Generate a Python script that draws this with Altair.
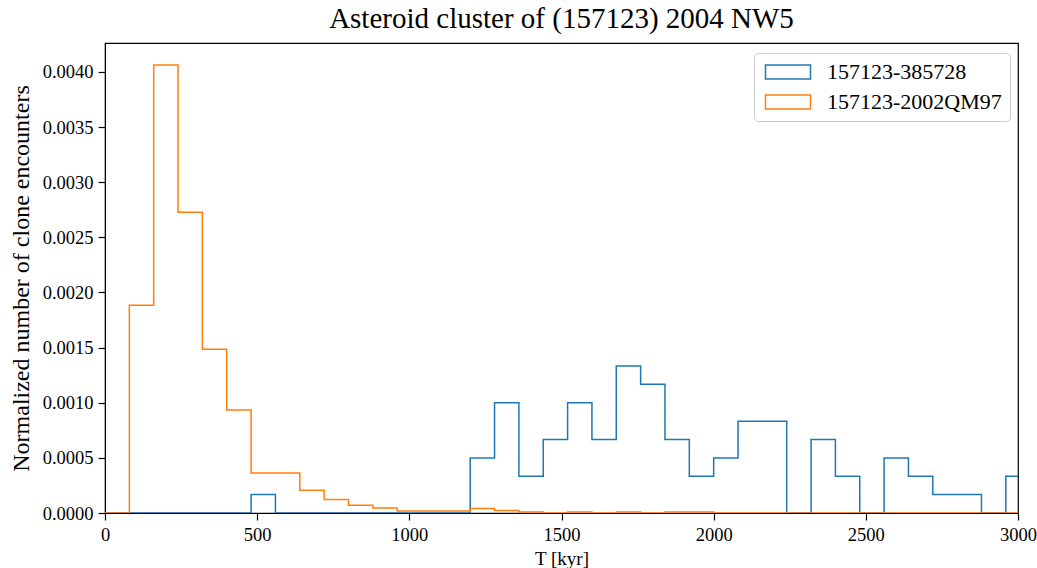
import altair as alt
import pandas as pd

# bin left edges (kyr), bin width 80
bin_width = 80
bin_lefts = list(range(0, 3040, bin_width))

series_names = ["157123-385728", "157123-2002QM97"]
series_colors = ["#1f77b4", "#ff7f0e"]

blue_vals = [0, 0, 0, 0, 0, 0,
             0.000167,
             0, 0, 0, 0, 0, 0, 0, 0,
             0.0005, 0.001, 0.000333, 0.000667, 0.001, 0.000667, 0.001333,
             0.001167, 0.000667, 0.000333, 0.0005, 0.000833, 0.000833, 0,
             0.000667, 0.000333, 0, 0.0005, 0.000333, 0.000167, 0.000167, 0,
             0.000333]

orange_vals = [0, 0.001885, 0.004064, 0.002728, 0.001486, 0.000935,
               0.000363, 0.000363, 0.000206, 0.000122, 0.000070, 0.000045,
               0.000018, 0.000018, 0.000018, 0.000040, 0.000022, 0.000009,
               0, 0.000009, 0, 0.000009, 0, 0.000009, 0.000009,
               0, 0, 0, 0, 0, 0, 0, 0, 0, 0, 0, 0, 0]

def step_frame(name, vals):
    xs = bin_lefts + [bin_lefts[-1] + bin_width]
    ys = list(vals) + [0]
    return pd.DataFrame({"T": xs, "v": ys, "series": name})

df_b = step_frame(series_names[0], blue_vals)
df_o = step_frame(series_names[1], orange_vals)

FONT = "Liberation Serif"

color = alt.Color(
    "series:N",
    scale=alt.Scale(domain=series_names, range=series_colors),
    legend=alt.Legend(
        title=None,
        orient="none",
        legendX=649,
        legendY=10,
        symbolType="M-1,-0.93L5,-0.93L5,0.93L-1,0.93Z",
        symbolSize=225,
        symbolStrokeWidth=1.5,
        symbolFillColor="transparent",
        labelFont=FONT,
        labelFontSize=22,
        labelColor="black",
        labelOffset=43,
        rowPadding=8,
        padding=8,
        fillColor="white",
        strokeColor="#cccccc",
        cornerRadius=4,
        labelLimit=400,
    ),
)

x = alt.X("T:Q", scale=alt.Scale(domain=[0, 3000], nice=False, zero=False),
          axis=alt.Axis(title="T [kyr]", values=[0, 500, 1000, 1500, 2000, 2500, 3000],
                        format="d"))
y = alt.Y("v:Q", scale=alt.Scale(domain=[0, 0.004263], nice=False),
          axis=alt.Axis(title="Normalized number of clone encounters",
                        values=[0, 0.0005, 0.001, 0.0015, 0.002, 0.0025, 0.003, 0.0035, 0.004],
                        format=".4f"))

base_b = alt.Chart(df_b).mark_line(interpolate="step-after", strokeWidth=1.5, clip=True).encode(
    x=x, y=y, color=color)
base_o = alt.Chart(df_o).mark_line(interpolate="step-after", strokeWidth=1.5, clip=True).encode(
    x=x, y=y, color=color)

chart = alt.layer(base_b, base_o).properties(
    width=913,
    height=470,
    autosize=alt.AutoSizeParams(type="none"),
    padding={"left": 105, "top": 43, "right": 19, "bottom": 55},
    title=alt.TitleParams("Asteroid cluster of (157123) 2004 NW5", font=FONT, fontSize=29,
                          fontWeight="normal", color="black", offset=9, anchor="middle"),
).configure_view(
    stroke="black", strokeWidth=1.2
).configure_axis(
    labelFont=FONT, labelFontSize=18.5, labelColor="black",
    titleFont=FONT, titleColor="black", titleFontWeight="normal",
    domainColor="black", tickColor="black", tickSize=7, tickWidth=1.2,
    grid=False, labelPadding=5, labelFlush=False,
).configure_axisX(
    titleFontSize=19, titlePadding=6,
).configure_axisY(
    titleFontSize=24, titlePadding=9,
)

chart.save("out.html", embed_options={"renderer": "svg", "actions": False})
